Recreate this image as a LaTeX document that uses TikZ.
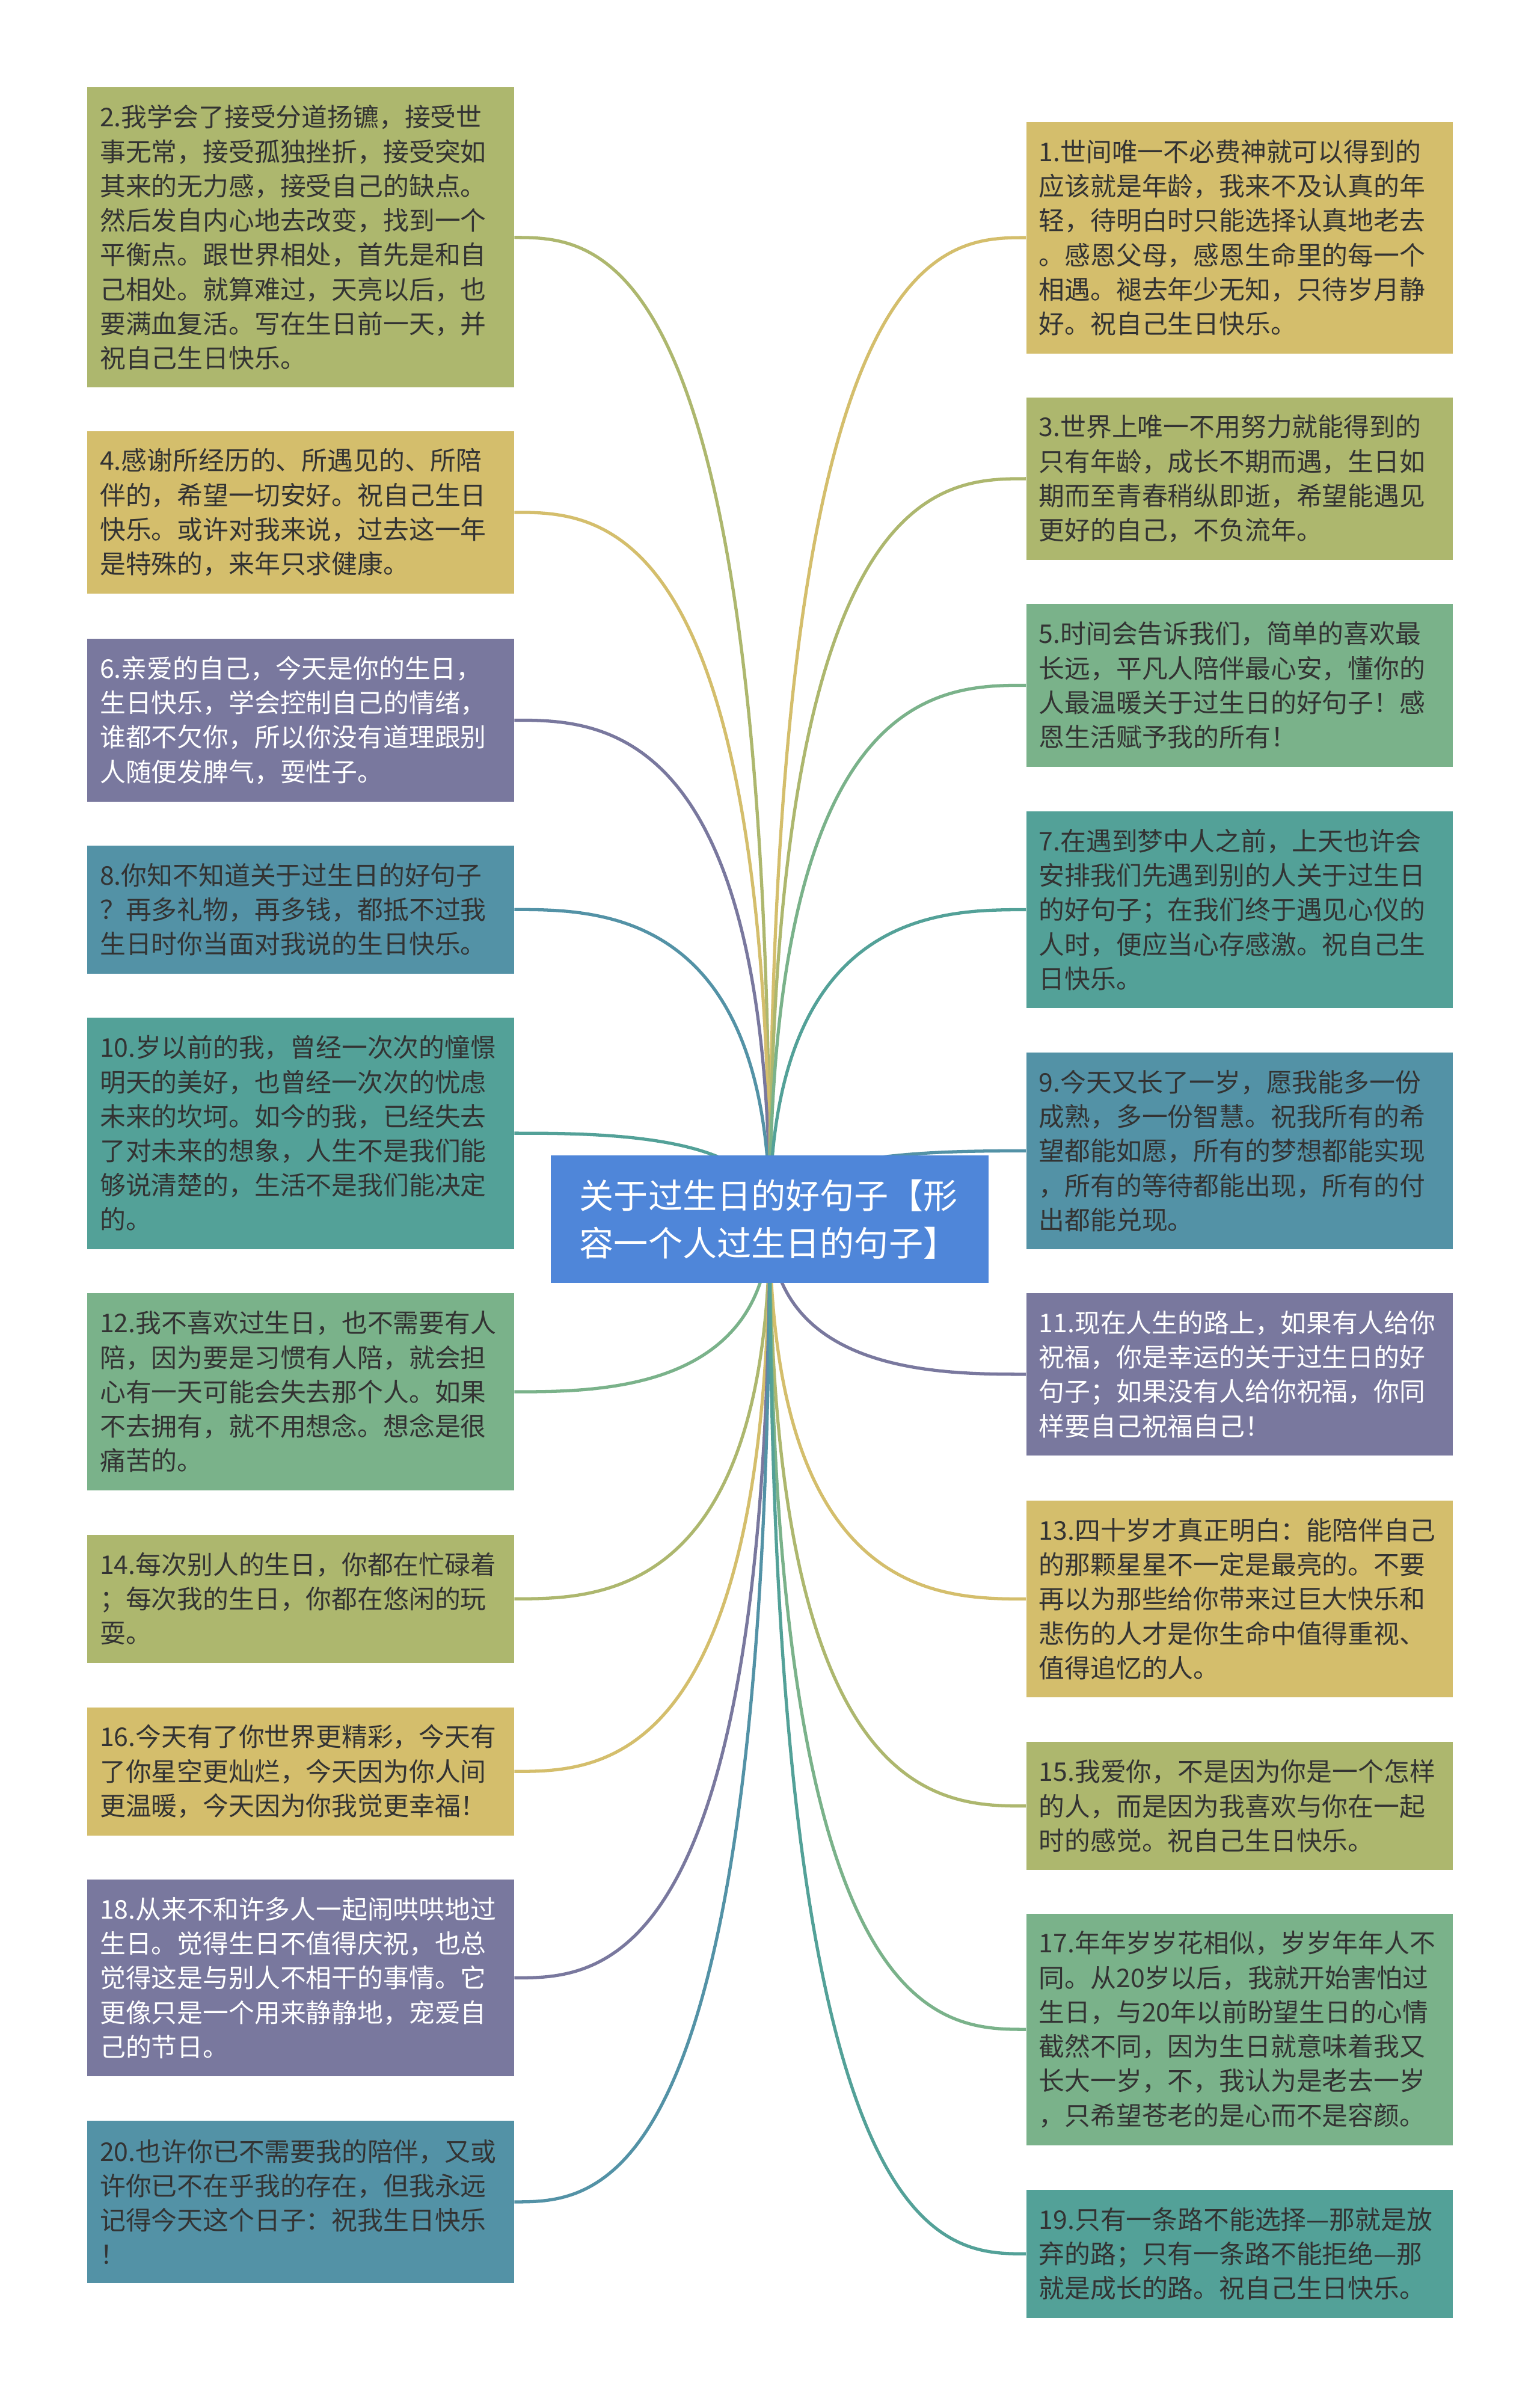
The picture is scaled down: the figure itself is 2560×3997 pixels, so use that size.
\documentclass[tikz,border=0pt]{standalone}
\usepackage{fontspec}
\newfontfamily\cjkfont{Noto Sans CJK SC}
\usetikzlibrary{
  calc,
  positioning
}
\pgfdeclarelayer{background}
\pgfsetlayers{background,main}

\definecolor{boxolive}{HTML}{ADB76E}
\definecolor{boxgold}{HTML}{D4BE6C}
\definecolor{boxpurple}{HTML}{79789E}
\definecolor{boxsteel}{HTML}{5392A6}
\definecolor{boxteal}{HTML}{53A198}
\definecolor{boxgreen}{HTML}{7AB28A}
\definecolor{rootblue}{HTML}{4F86D9}
\definecolor{textdark}{HTML}{333333}

\tikzset{
  quotebox/.style={rectangle, anchor=north west, fill=#1, draw=none,
    inner xsep=0.21cm, inner ysep=0pt, text width=6.67cm, align=left,
    font=\cjkfont\fontsize{12.18pt}{16.27pt}\selectfont, text=textdark},
  nrows/.style={minimum height={0.414cm+#1*0.572cm}},
  rootbox/.style={rectangle, fill=rootblue, draw=none, text=white,
    inner xsep=0.48cm, inner ysep=0pt, text width=6.32cm,
    minimum height=2.12cm, align=left,
    font=\cjkfont\fontsize{16.25pt}{22.5pt}\selectfont},
  branch/.style={line width=1.5pt}
}

\begin{document}
\begin{tikzpicture}[x=0.01cm, y=-0.01cm]
  \useasboundingbox (0,0) rectangle (2560,3997);

  % root
  \node[rootbox] (root) at (1280,2027)
  {关于过生日的好句子【形\\容一个人过生日的句子】};

  % left column
  \node[quotebox=boxolive, nrows=8] (L2) at (144.5,144.5)
  {2.我学会了接受分道扬镳，接受世\\事无常，接受孤独挫折，接受突如\\其来的无力感，接受自己的缺点。\\然后发自内心地去改变，找到一个\\平衡点。跟世界相处，首先是和自\\己相处。就算难过，天亮以后，也\\要满血复活。写在生日前一天，并\\祝自己生日快乐。};
  \node[quotebox=boxgold, nrows=4] (L4) at (144.5,716)
  {4.感谢所经历的、所遇见的、所陪\\伴的，希望一切安好。祝自己生日\\快乐。或许对我来说，过去这一年\\是特殊的，来年只求健康。};
  \node[quotebox=boxpurple, nrows=4, text=white] (L6) at (144.5,1061.5)
  {6.亲爱的自己，今天是你的生日，\\生日快乐，学会控制自己的情绪，\\谁都不欠你，所以你没有道理跟别\\人随便发脾气，耍性子。};
  \node[quotebox=boxsteel, nrows=3] (L8) at (144.5,1405)
  {8.你知不知道关于过生日的好句子\\？再多礼物，再多钱，都抵不过我\\生日时你当面对我说的生日快乐。};
  \node[quotebox=boxteal, nrows=6] (L10) at (144.5,1691)
  {10.岁以前的我，曾经一次次的憧憬\\明天的美好，也曾经一次次的忧虑\\未来的坎坷。如今的我，已经失去\\了对未来的想象，人生不是我们能\\够说清楚的，生活不是我们能决定\\的。};
  \node[quotebox=boxgreen, nrows=5] (L12) at (144.5,2149.5)
  {12.我不喜欢过生日，也不需要有人\\陪，因为要是习惯有人陪，就会担\\心有一天可能会失去那个人。如果\\不去拥有，就不用想念。想念是很\\痛苦的。};
  \node[quotebox=boxolive, nrows=3] (L14) at (144.5,2551)
  {14.每次别人的生日，你都在忙碌着\\；每次我的生日，你都在悠闲的玩\\耍。};
  \node[quotebox=boxgold, nrows=3] (L16) at (144.5,2838)
  {16.今天有了你世界更精彩，今天有\\了你星空更灿烂，今天因为你人间\\更温暖，今天因为你我觉更幸福！};
  \node[quotebox=boxpurple, nrows=5, text=white] (L18) at (144.5,3124)
  {18.从来不和许多人一起闹哄哄地过\\生日。觉得生日不值得庆祝，也总\\觉得这是与别人不相干的事情。它\\更像只是一个用来静静地，宠爱自\\己的节日。};
  \node[quotebox=boxsteel, nrows=4] (L20) at (144.5,3525)
  {20.也许你已不需要我的陪伴，又或\\许你已不在乎我的存在，但我永远\\记得今天这个日子：祝我生日快乐\\！};

  % right column
  \node[quotebox=boxgold, nrows=6] (R1) at (1706,202)
  {1.世间唯一不必费神就可以得到的\\应该就是年龄，我来不及认真的年\\轻，待明白时只能选择认真地老去\\。感恩父母，感恩生命里的每一个\\相遇。褪去年少无知，只待岁月静\\好。祝自己生日快乐。};
  \node[quotebox=boxolive, nrows=4] (R3) at (1706,660)
  {3.世界上唯一不用努力就能得到的\\只有年龄，成长不期而遇，生日如\\期而至青春稍纵即逝，希望能遇见\\更好的自己，不负流年。};
  \node[quotebox=boxgreen, nrows=4] (R5) at (1706,1003.5)
  {5.时间会告诉我们，简单的喜欢最\\长远，平凡人陪伴最心安，懂你的\\人最温暖关于过生日的好句子！感\\恩生活赋予我的所有！};
  \node[quotebox=boxteal, nrows=5] (R7) at (1706,1348)
  {7.在遇到梦中人之前，上天也许会\\安排我们先遇到别的人关于过生日\\的好句子；在我们终于遇见心仪的\\人时，便应当心存感激。祝自己生\\日快乐。};
  \node[quotebox=boxsteel, nrows=5] (R9) at (1706,1749)
  {9.今天又长了一岁，愿我能多一份\\成熟，多一份智慧。祝我所有的希\\望都能如愿，所有的梦想都能实现\\，所有的等待都能出现，所有的付\\出都能兑现。};
  \node[quotebox=boxpurple, nrows=4, text=white] (R11) at (1706,2149)
  {11.现在人生的路上，如果有人给你\\祝福，你是幸运的关于过生日的好\\句子；如果没有人给你祝福，你同\\样要自己祝福自己！};
  \node[quotebox=boxgold, nrows=5] (R13) at (1706,2494)
  {13.四十岁才真正明白：能陪伴自己\\的那颗星星不一定是最亮的。不要\\再以为那些给你带来过巨大快乐和\\悲伤的人才是你生命中值得重视、\\值得追忆的人。};
  \node[quotebox=boxolive, nrows=3] (R15) at (1706,2895.5)
  {15.我爱你，不是因为你是一个怎样\\的人，而是因为我喜欢与你在一起\\时的感觉。祝自己生日快乐。};
  \node[quotebox=boxgreen, nrows=6] (R17) at (1706,3181)
  {17.年年岁岁花相似，岁岁年年人不\\同。从20岁以后，我就开始害怕过\\生日，与20年以前盼望生日的心情\\截然不同，因为生日就意味着我又\\长大一岁，不，我认为是老去一岁\\，只希望苍老的是心而不是容颜。};
  \node[quotebox=boxteal, nrows=3] (R19) at (1706,3640)
  {19.只有一条路不能选择—那就是放\\弃的路；只有一条路不能拒绝—那\\就是成长的路。祝自己生日快乐。};

  % branches
  \begin{pgfonlayer}{background}
    \foreach \b/\c in {L2/boxolive, L4/boxgold, L6/boxpurple, L8/boxsteel,
        L10/boxteal, L12/boxgreen, L14/boxolive, L16/boxgold,
        L18/boxpurple, L20/boxsteel}
      \draw[branch, draw=\c] (root.center)
        .. controls (root.center |- \b.east)
        and ($(\b.east)!1/3!(root.center |- \b.east)$) .. (\b.east);
    \foreach \b/\c in {R1/boxgold, R3/boxolive, R5/boxgreen, R7/boxteal,
        R9/boxsteel, R11/boxpurple, R13/boxgold, R15/boxolive,
        R17/boxgreen, R19/boxteal}
      \draw[branch, draw=\c] (root.center)
        .. controls (root.center |- \b.west)
        and ($(\b.west)!1/3!(root.center |- \b.west)$) .. (\b.west);
  \end{pgfonlayer}
\end{tikzpicture}
\end{document}
